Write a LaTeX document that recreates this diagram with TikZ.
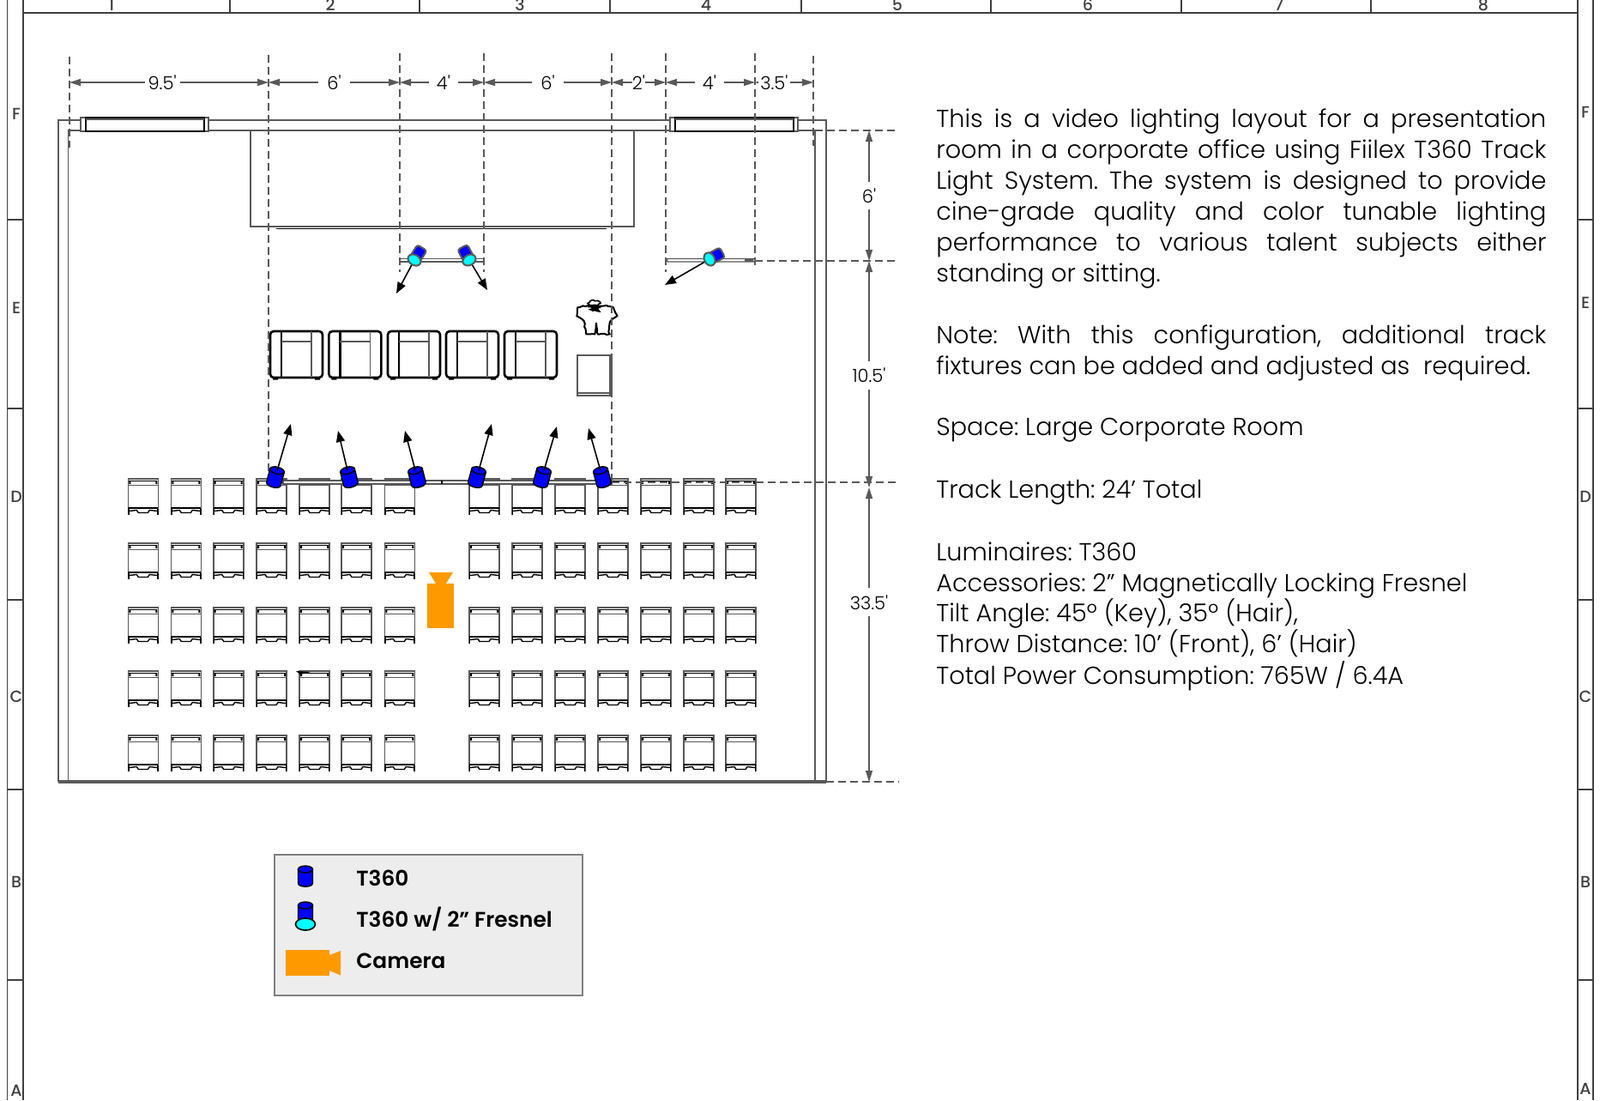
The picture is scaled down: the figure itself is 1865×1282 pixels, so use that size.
\documentclass[tikz,border=0pt]{standalone}
\usepackage{fontspec}
\setmainfont{Poppins Light}[BoldFont={Poppins SemiBold}]
\newfontfamily\dimfont{Poppins Light}
\newfontfamily\zonefont{Poppins Medium}
\usetikzlibrary{arrows.meta,decorations.pathmorphing}
\definecolor{dimgrey}{HTML}{595959}
\definecolor{framegrey}{HTML}{404040}
\definecolor{camorange}{HTML}{FF9900}
\definecolor{legfill}{HTML}{EDEDED}
\definecolor{lenscyan}{HTML}{00FFFF}
\definecolor{bodyblue}{HTML}{0000FF}
\newcommand{\jl}[1]{\makebox[355.5pt][s]{#1}}
\frenchspacing
\tikzset{
  x=0.5pt,y=-0.5pt,
  frameline/.style={framegrey,line width=0.8pt},
  zonelabel/.style={font=\zonefont\fontsize{9.5}{10}\selectfont,text=framegrey,inner sep=0pt},
  wall/.style={dimgrey,line width=0.65pt},
  dashline/.style={dimgrey,line width=0.8pt,dash pattern=on 4.5pt off 2.5pt},
  dimarrow/.style={dimgrey,line width=0.7pt,{Stealth[inset=0pt,length=6.5pt,width=4pt]}-{Stealth[inset=0pt,length=6.5pt,width=4pt]}},
  dimlabel/.style={font=\dimfont\fontsize{10.5}{12}\selectfont,text=black,fill=white,inner xsep=1.5pt,inner ysep=1pt},
  beam/.style={black,line width=0.8pt,-{Stealth[inset=0pt,length=6.5pt,width=5pt]}},
  trackbar/.style={draw=dimgrey,fill=white,line width=0.7pt},
  bodytext/.style={anchor=north west,inner sep=0pt,align=left,font=\fontsize{14.35}{18}\selectfont},
  legtext/.style={anchor=base west,inner sep=0pt,font=\fontsize{12.4}{15}\selectfont\bfseries},
  t360/.pic={
    \draw[black,line width=0.7pt,fill=bodyblue] (-8.5,-8) -- (-8.5,8) .. controls (-8.5,13.5) and (8.5,13.5) .. (8.5,8) -- (8.5,-8) -- cycle;
    \draw[black,line width=0.7pt,fill=bodyblue] (0,-8) ellipse [x radius=8.5,y radius=4];
    \coordinate (-top) at (0,-8);
  },
  fresnel/.pic={
    \draw[dimgrey,line width=1pt,fill=bodyblue,rounded corners=1.5pt] (-6.5,0) -- (-6.5,-17) -- (6.5,-17) -- (6.5,0) -- cycle;
    \draw[dimgrey,line width=1pt,fill=lenscyan] (0,0) ellipse [x radius=8,y radius=6];
    \coordinate (-lens) at (0,0);
  },
  seatchair/.pic={
    \draw[dimgrey,line width=0.8pt] (0,42) -- (0,0) -- (35,0) -- (35,42);
    \draw[dimgrey,line width=0.9pt] (0,7.5) -- (35,7.5);
    \draw[black,line width=0.6pt] (1,2.5) -- (34,2.5);
    \fill[black] (1,2) rectangle (3,6) (32,2) rectangle (34,6);
    \draw[black,line width=1.2pt] (0,34) -- (35,34);
    \draw[black,line width=0.7pt] (1,37.5) -- (10,36.5) -- (12,39.5) -- (23,39.5) -- (25,36.5) -- (34,37.5);
    \draw[black,line width=0.7pt] (0.5,35) -- (0.5,42) (34.5,35) -- (34.5,42);
  },
  sofachair/.pic={
    \draw[black,line width=1.3pt,rounded corners=2pt] (0,55) -- (0,1) -- (61,1) -- (61,55) -- cycle;
    \draw[black,line width=1.1pt] (13,1) -- (13,55);
    \draw[dimgrey,line width=.7pt] (48,1) -- (48,55);
    \draw[dimgrey,line width=.7pt] (13,13) -- (48,13);
    \fill[black] (3,55) rectangle (9,57.5) (52,55) rectangle (58,57.5);
  },
}
\begin{document}
\begin{tikzpicture}
\useasboundingbox (0,0) rectangle (1865,1282);
% sheet frame
\draw[frameline] (8.5,0) -- (8.5,1282) (27,0) -- (27,1282) (1839,0) -- (1839,1282) (1857,0) -- (1857,1282);
\draw[frameline] (27,15) -- (1839,15);
\foreach \zx in {268,489,711,934,1155,1377,1598} \draw[frameline] (\zx,0) -- (\zx,15);
\foreach \zy in {256,476,699,920,1142} {\draw[frameline] (8.5,\zy) -- (27,\zy); \draw[frameline] (1839,\zy) -- (1857,\zy);}
\foreach \zx/\zt in {130/1,385/2,606/3,823/4,1046/5,1268/6,1491/7,1729/8} \node[zonelabel] at (\zx,5.5) {\zt};
\foreach \zy/\zt in {133/F,359/E,579/D,812/C,1028/B,1271/A} \node[zonelabel] at (19,\zy) {\zt};
\foreach \zy/\zt in {131/F,353/E,579/D,812/C,1028/B,1269/A} \node[zonelabel] at (1848,\zy) {\zt};
% room
\draw[wall] (68,911) -- (68,140) -- (963,140) -- (963,911);
\draw[wall] (79.5,911) -- (79.5,152) -- (950,152) -- (950,911);
\draw[dimgrey,line width=1.6pt] (68,911) -- (963,911);
% windows
\foreach \wa/\wb/\wc/\wd in {94/100/238/243,781/787/925/930} {
  \draw[dimgrey,line width=0.6pt,fill=white] (\wa,137) rectangle (\wd,153);
  \draw[black,line width=0.8pt] (\wb,137) rectangle (\wc,153);
  \draw[dimgrey,line width=0.9pt] (\wb,139) -- (\wc,139);
}
% stage and screen
\draw[wall] (292,152) -- (292,264) -- (739,264) -- (739,152);
\draw[black,line width=0.9pt] (322,266.5) -- (707,266.5);
% seats
\foreach \cy in {558,633,708,782,857}
  \foreach \cx in {149.3,199.3,248.7,299,349,398,448.3,547,597,647,697,747,797,846}
    \pic at (\cx,\cy) {seatchair};
\fill[black] (345,782) -- (362,783) -- (350,786) -- cycle;
% sofa chairs
\foreach \sx in {315,383.4,452,520,588} \pic at (\sx,385) {sofachair};
% lectern
\draw[dimgrey,line width=0.8pt] (673,414) rectangle (713,461);
\draw[dimgrey,line width=0.6pt] (711,414) -- (711,461) (673,458) -- (713,458);
% presenter
\begin{scope}[shift={(440,270)},x=0.16667pt,y=-0.16667pt]
  \draw[black,line width=1pt,fill=white,decorate,decoration={random steps,segment length=1.5pt,amplitude=0.35pt}]
    (700,265) -- (735,258) -- (800,258) -- (825,265) -- (838,295) -- (815,312) -- (808,350) -- (812,358) -- (770,358) -- (765,318) -- (760,358) -- (730,358) -- (722,312) -- (697,295) -- cycle;
  \draw[black,line width=0.8pt,decorate,decoration={random steps,segment length=1.2pt,amplitude=0.4pt}]
    (735,250) -- (745,241) -- (770,241) -- (780,250) -- (770,258) -- (745,258) -- cycle;
  \draw[black,line width=1pt,decorate,decoration={random steps,segment length=1.2pt,amplitude=0.5pt}]
    (735,262) -- (780,262) -- (745,272) -- (775,278) -- (755,265);
\end{scope}
% camera
\fill[camorange] (498,680) rectangle (529,732);
\fill[camorange] (500,667) -- (528,667) -- (520,680) -- (508,680) -- cycle;
% dashed extension lines
\draw[dashline] (81,66) -- (81,172);
\draw[dashline] (313,64) -- (313,558);
\draw[dashline] (466,62) -- (466,317);
\draw[dashline] (564,62) -- (564,317);
\draw[dashline] (713,62) -- (713,558);
\draw[dashline] (776,62) -- (776,317);
\draw[dashline] (880,62) -- (880,314);
\draw[dashline] (948,65) -- (948,170);
\draw[dashline] (950,152) -- (1048,152);
\draw[dashline] (880,304) -- (1048,304);
\draw[dashline] (713,562) -- (1048,562);
\draw[dashline] (963,911) -- (1048,911);
% dimensions
\foreach \ca/\xa in {da/81,db/313,dc/466,dd/564,de/713,df/776,dg/880,dh/948} \coordinate (\ca) at (\xa,96);
\foreach \ca/\ya in {va/152,vb/304,vc/568,vd/911} \coordinate (\ca) at (1013,\ya);
\draw[dimarrow] (da) -- (db) node[dimlabel,pos=0.466,inner xsep=2pt] (d1) {9.5'};
\draw[dimarrow] (db) -- (dc) node[dimlabel,pos=0.50,inner xsep=5pt] (d2) {6'};
\draw[dimarrow] (dc) -- (dd) node[dimlabel,pos=0.52,inner xsep=4.5pt] (d3) {4'};
\draw[dimarrow] (dd) -- (de) node[dimlabel,pos=0.50,inner xsep=5pt] (d4) {6'};
\draw[dimarrow] (de) -- (df) node[dimlabel,pos=0.50,inner xsep=0pt] (d5) {2'};
\draw[dimarrow] (df) -- (dg) node[dimlabel,pos=0.49,inner xsep=4.5pt] (d6) {4'};
\draw[dimarrow] (dg) -- (dh) node[dimlabel,pos=0.33,inner xsep=1pt] (d7) {3.5'};
\draw[dimarrow] (va) -- (vb) node[dimlabel,pos=0.5,inner ysep=4pt] (d8) {6'};
\draw[dimarrow] (vb) -- (vc) node[dimlabel,pos=0.505,inner ysep=4pt] (d9) {10.5'};
\draw[dimarrow] (vc) -- (vd) node[dimlabel,pos=0.39,inner ysep=4pt] (d10) {33.5'};
% tracks
\draw[trackbar] (466,301.5) rectangle (564,305);
\draw[trackbar,rounded corners=1pt] (777,301.5) rectangle (880,305);
\fill[dimgrey] (868,302) rectangle (878,305);
\draw[trackbar] (330,560) rectangle (713,564);
\draw[black,line width=0.6pt] (515,560) -- (515,564);
% fresnel fixtures
\coordinate (ta) at (462,342); \coordinate (tb) at (568,338); \coordinate (tc) at (775,332);
\draw[beam] (483,303) -- (ta);
\draw[beam] (547,303) -- (tb);
\draw[beam] (827,302) -- (tc);
\pic[rotate=-32] (fa) at (483,303) {fresnel};
\pic[rotate=28] (fb) at (547,303) {fresnel};
\pic[rotate=-62] (fc) at (827,302) {fresnel};
% T360 fixtures
\pic[rotate=-15] (ka) at (321,556) {t360};
\pic[rotate=14] (kb) at (407,556) {t360};
\pic[rotate=14] (kc) at (486,556) {t360};
\pic[rotate=-15] (kd) at (556,556) {t360};
\pic[rotate=-15] (ke) at (632,556) {t360};
\pic[rotate=15] (kf) at (702,556) {t360};
\coordinate (pa) at (339,494); \coordinate (pb) at (394,502); \coordinate (pc) at (472,502);
\coordinate (pd) at (573,494); \coordinate (pe) at (649,497); \coordinate (pf) at (686,499);
\draw[beam] (ka-top) -- (pa);
\draw[beam] (kb-top) -- (pb);
\draw[beam] (kc-top) -- (pc);
\draw[beam] (kd-top) -- (pd);
\draw[beam] (ke-top) -- (pe);
\draw[beam] (kf-top) -- (pf);
% legend
\draw[fill=legfill,draw=gray,line width=0.9pt] (320,996) rectangle (679,1160);
\pic at (356,1021) {t360};
\pic at (356,1063) {t360};
\draw[black,line width=0.8pt,fill=lenscyan] (356,1077) ellipse [x radius=11.5,y radius=7];
\fill[camorange] (333,1107) rectangle (384,1137);
\fill[camorange] (384,1113) -- (397,1108) -- (397,1136.5) -- (384,1131) -- cycle;
\node[legtext] (l1) at (415,1032) {T360};
\node[legtext] (l2) at (415,1080) {T360 w/ 2” Fresnel};
\node[legtext] (l3) at (415,1128) {Camera};
% notes
\node[bodytext] (p1) at (1091,126) {\jl{This is a video lighting layout for a presentation}\\\jl{room in a corporate office using Fiilex T360 Track}\\\jl{Light System. The system is designed to provide}\\\jl{cine-grade quality and color tunable lighting}\\\jl{performance to various talent subjects either}\\standing or sitting.};
\node[bodytext] (p2) at (1091,378) {\jl{Note: With this configuration, additional track}\\fixtures can be added and adjusted as\ \ required.};
\node[bodytext] (p3) at (1091,487) {Space: Large Corporate Room};
\node[bodytext] (p4) at (1091,559) {Track Length: 24’ Total};
\node[bodytext] (p5) at (1091,631) {Luminaires: T360\\Accessories: 2” Magnetically Locking Fresnel\\Tilt Angle: 45º (Key), 35º (Hair),\\Throw Distance: 10’ (Front), 6’ (Hair)\\Total Power Consumption: 765W / 6.4A};
\end{tikzpicture}
\end{document}
